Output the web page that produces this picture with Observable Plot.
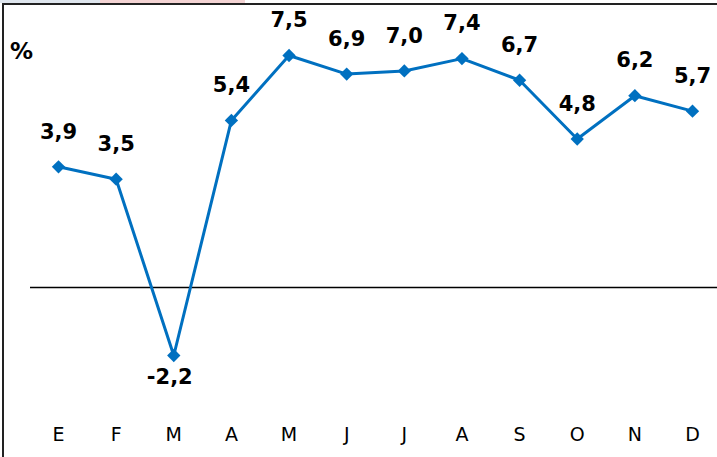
<!DOCTYPE html>
<html>
<head>
<meta charset="utf-8">
<script src="https://cdn.jsdelivr.net/npm/d3@7"></script>
<script src="https://cdn.jsdelivr.net/npm/@observablehq/plot@0.6"></script>
<style>
  html, body { margin: 0; padding: 0; background: #fff; }
  #wrap { position: relative; width: 717px; height: 457px; overflow: hidden; font-family: "DejaVu Sans", Verdana, sans-serif; }
  #strip { position: absolute; left: 0; top: 0; width: 717px; height: 3px;
    background: linear-gradient(to right, #dfe6ee 0px, #dfe6ee 100px, #f3d3d3 100px, #f3d3d3 245px, #ffffff 245px); }
  #bt { position: absolute; left: 2px; top: 3px; width: 715px; height: 2px; background: #222; }
  #bl { position: absolute; left: 2px; top: 3px; width: 2px; height: 454px; background: #222; }
  #unit { position: absolute; left: 10px; top: 38px; font-weight: bold; font-size: 23px; color: #000; }
  #chart { position: absolute; left: 0; top: 0; }
</style>
</head>
<body>
<div id="wrap">
  <div id="chart"></div>
  <div id="strip"></div>
  <div id="bt"></div>
  <div id="bl"></div>
  <div id="unit">%</div>
</div>
<script>
const months = ["E", "F", "M", "A", "M", "J", "J", "A", "S", "O", "N", "D"];
const values = [3.9, 3.5, -2.2, 5.4, 7.5, 6.9, 7.0, 7.4, 6.7, 4.8, 6.2, 5.7];
const labels = ["3,9", "3,5", "-2,2", "5,4", "7,5", "6,9", "7,0", "7,4", "6,7", "4,8", "6,2", "5,7"];

const data = months.map((m, i) => ({i, m, v: values[i], label: labels[i]}));
const blue = "#0070c0";

const chart = Plot.plot({
  width: 717,
  height: 457,
  marginLeft: 30,
  marginRight: 0,
  marginTop: 10,
  marginBottom: 32,
  style: {fontFamily: "DejaVu Sans, Verdana, sans-serif", background: "transparent", color: "#000"},
  x: {type: "linear", domain: [0, 11], range: [58, 692], axis: null, label: null},
  y: {domain: [-2.2, 7.5], range: [355, 55], axis: null},
  marks: [
    Plot.ruleY([0], {stroke: "#000", strokeWidth: 1.5}),
    Plot.line(data, {x: "i", y: "v", stroke: blue, strokeWidth: 3}),
    Plot.dot(data, {x: "i", y: "v", symbol: "diamond2", r: 6, fill: blue, stroke: null}),
    Plot.text(data.filter(d => d.v >= 0), {x: "i", y: "v", text: "label", dy: -35, fontSize: 21, fontWeight: "bold", fill: "#000"}),
    Plot.text(data.filter(d => d.v < 0), {x: "i", y: "v", text: "label", dy: 22, dx: -4, fontSize: 21, fontWeight: "bold", fill: "#000"}),
    Plot.axisX({anchor: "bottom", ticks: d3.range(12), tickSize: 0, tickPadding: 2, fontSize: 19, label: null, tickFormat: i => months[i], fill: "#000"})
  ]
});
document.getElementById("chart").appendChild(chart);
</script>
</body>
</html>
